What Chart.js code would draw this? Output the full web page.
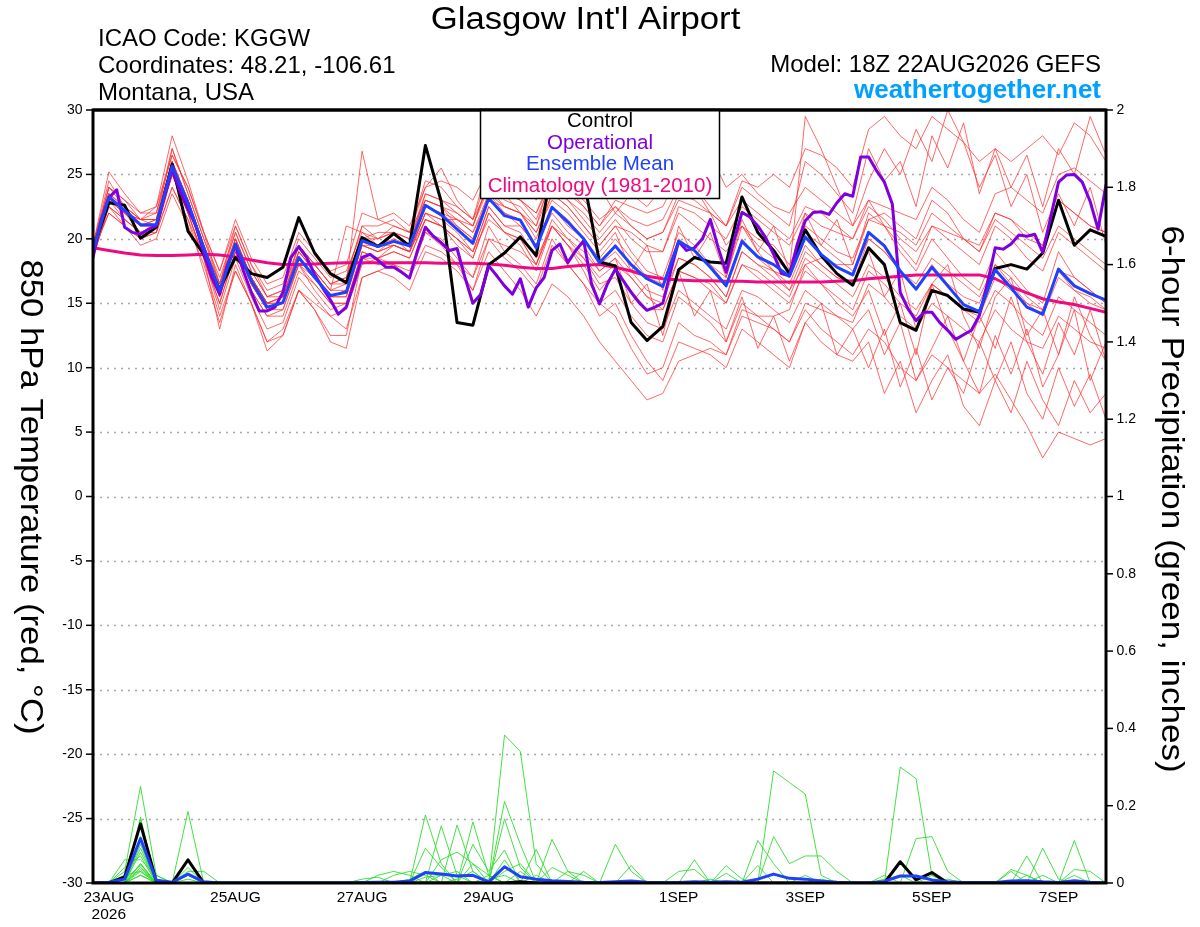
<!DOCTYPE html>
<html><head><meta charset="utf-8">
<script src="https://cdn.jsdelivr.net/npm/chart.js@4.4.1/dist/chart.umd.min.js"></script>
<style>html,body{margin:0;padding:0;background:#fff;}canvas{display:block;}</style>
</head><body>
<canvas id="c" width="1200" height="927"></canvas>
<script>
// ---- x axis: 6-hourly steps, index 0 = 18Z 22AUG2026 ----
const tickIndex = [1, 9, 17, 25, 37, 45, 53, 61];
const tickLabels = [['23AUG','2026'], '25AUG', '27AUG', '29AUG', '1SEP', '3SEP', '5SEP', '7SEP'];

// ---- 850 hPa temperature (°C) ----
const controlTemp = [19.2,22.8,22.6,20.05,20.9,25.8,20.6,18.8,16.1,18.55,17.3,17.0,17.8,21.65,18.9,17.3,16.6,
 20.1,19.4,20.4,19.45,27.25,22.9,13.5,13.3,18.0,18.9,20.15,18.7,25.5,26.0,24.6,18.2,
 17.9,13.5,12.1,13.2,17.6,18.55,18.2,18.1,23.25,20.5,19.1,17.3,20.7,18.7,17.3,16.4,
 19.3,18.0,13.5,12.9,16.0,15.6,14.55,14.3,17.7,18.0,17.65,18.9,23.0,19.5,20.7,20.2];
const meanTemp = [19.1,23.25,22.2,21.1,21.1,25.65,22.8,19.3,15.95,19.6,16.75,14.7,15.05,18.55,17.0,15.6,15.85,
 19.85,19.4,19.8,19.45,22.6,21.85,20.75,19.65,23.15,21.8,21.45,19.3,22.45,21.3,20.0,18.15,
 19.45,18.0,16.9,16.3,19.8,19.1,17.8,16.35,19.8,18.6,18.0,17.1,20.15,18.8,17.8,17.2,
 20.5,19.45,17.5,16.1,17.8,16.35,14.9,14.35,17.6,16.2,14.7,14.15,17.65,16.35,15.75,15.25];
const climoTemp = [19.3,19.1,18.9,18.75,18.7,18.7,18.75,18.8,18.75,18.6,18.35,18.15,18.0,18.0,18.05,18.1,18.15,
 18.15,18.15,18.15,18.15,18.15,18.1,18.1,18.1,18.05,17.95,17.8,17.7,17.7,17.85,17.95,18.0,
 17.8,17.5,17.1,16.9,16.8,16.75,16.75,16.7,16.7,16.65,16.65,16.65,16.65,16.65,16.7,16.75,
 16.9,17.0,17.1,17.2,17.2,17.2,17.2,17.2,16.9,16.3,15.8,15.35,15.1,14.9,14.6,14.3];
// operational run is 3-hourly (index step 0.5)
const operTemp = [18.55,21.4,23.2,23.8,20.9,20.5,20.35,20.75,21.0,23.2,25.4,23.7,22.3,21.0,18.9,17.0,15.7,18.0,19.45,17.5,15.85,14.4,14.4,14.7,15.85,18.55,19.4,18.55,17.25,16.2,15.25,14.15,14.7,
 16.6,18.55,18.8,18.35,17.8,17.8,17.4,16.95,19.1,20.9,20.2,19.7,19.1,19.25,17.0,15.0,15.7,17.9,17.15,16.35,15.7,16.9,14.7,16.2,17.0,19.1,19.6,18.15,19.1,19.85,16.5,14.95,
 16.5,17.65,16.75,15.85,15.05,14.45,14.7,15.0,17.5,19.8,19.1,19.3,20.0,21.5,19.3,17.4,19.85,22.05,21.7,21.0,20.1,18.8,17.3,17.15,19.6,21.4,22.05,22.1,21.9,22.8,23.5,23.3,
 26.35,26.35,25.3,24.4,22.7,15.85,14.55,13.65,14.3,14.3,13.5,12.9,12.2,12.55,12.9,14.05,16.5,19.3,19.2,19.6,20.3,20.2,20.35,18.95,21.65,24.4,24.95,25.0,24.4,22.9,20.75,24.2];

// ensemble members (temperature)
const mem01 = [19.5,24.5,22.5,21.5,22,27,23.5,20,17,20.5,17.5,15.5,16,19.5,18,16.5,17, 21,20,20.5,19.5,23.5,23,22,21,24.5,23,22.5,21,24,23,22,20.5, 22,21,20,20.5,23.5,23,22,21,24,23,22,21,26,25,23.5,22, 27,24.5,26,22.5,28,25.5,29,23.5,27,24,26.5,22.5,27,25,29.5,26.5];
const mem02 = [18.5,22.5,21.5,20.5,20.5,25,22,18.5,14.5,18.5,15.5,13,13.5,17,15.5,14,14.5, 18,18.5,18,17.5,20.5,20,18.5,17,21,19,18,16.5,20,18,16.5,14, 15,12.5,10.5,9,12,11.5,11,10,13,12,11,10,13.5,12,11,10.5, 12,8,10.5,6.5,9,11,7,5.5,9,12,8,6,10,7,9.5,6];
const mem03 = [19,23,22.5,21.5,21.5,26,23,19,16,20,17,15,15.5,19,17.5,16,16.5, 26.8,21.5,21,20.5,24,25.5,23,21.5,25,23.5,22,20,23.5,22.5,21,19.5, 21,19,17.5,17,20.5,19.5,18,17,21,19.5,18.5,17.5,29.5,27,24,21, 23,21,19,17.5,20,18.5,17,16,19,17.5,16,15,19,17,16,15];
const mem04 = [19,22,21,20,20.5,24,21.5,18.5,13,18,15,12,13,16,15,14,13, 17,17.5,18,17,19.5,19,18,17,20,19.5,19,18,21,20,19,17.5, 18.5,17,15.5,15,18.5,18,17,15.5,19,18,17.5,17,21,20,19,18.5, 21.5,22,21,20,23,22,20,19.5,22,21.5,20,19.5,23,22,21,20.5];
const mem05 = [19.5,25.2,23.5,22,22,26.5,24,20.5,17.5,21,18,16,16.5,20,18.5,17,17.5, 20.5,19.5,20,19,22,21,20,19,22.5,21,21,19.5,22.5,21.5,20,18.5, 20,18.5,17,16.5,20,19,18,16.5,20,18.5,17.5,16.5,19.5,18,17,16.5, 19,15.5,17.5,13,16.5,18,14,11.5,15.5,17,12.5,14.5,11,15.5,12.5,10.5];
const mem06 = [19,23.5,22,21,21,25.5,22.5,19,15.5,19.5,16.5,14.5,15,18.5,17,15.5,16, 19.5,19,20,19.5,22.5,22,21,20,23,22,21.5,19.5,22.5,21,20,18, 19,17.5,16,15.5,18.5,18,17,15.5,19,18,17,16,19,18,17,16.5, 20,19,17.5,16,18,16.5,15.5,15,18,16.5,15,14,17,16,15,14.5];
const mem07 = [19,23,22,21.5,21,25,22.5,19.5,16,19.5,17,15,15,18,17,15.5,16, 20,20,21,20.5,23,22.5,22,21,24,22.5,22,21,25,24,23,21.5, 22.5,21.5,21,21.5,24,25.5,26.5,24,25,23.5,22.5,22,24,23,22,21, 24.5,27,25,28.5,26,30,27.5,24,26.5,22.5,25,20.5,23.5,21,24,19.5];
const mem08 = [18.5,22.5,21.5,20.5,21,25,22,18.5,15,19,16,14,14.5,18,16.5,15,15, 19,18.5,19,18.5,21.5,21,19.5,18.5,22,20.5,20,18,21.5,20,18.5,16.5, 17,15,13.5,13,16,15,14,13,16,15.5,14.5,13.5,16,15,14,13, 14.5,11,13.5,9,11.5,14,10.5,8,12.5,9.5,13,8.5,11,14.5,9,12];
const mem09 = [19.5,24,23,21.5,22.5,28,24.5,20.5,16.5,21,18,15.5,16,19.5,18,16.5,17, 21,21,21.5,20.5,24.5,24,22.5,21.5,26,24,23,22,24.5,23,21.5,20, 21.5,20,19,19,22.5,22,21,20,22.5,21.5,20.5,19.5,22,21,20.5,20, 23,22.5,22,21.5,24,23,21.5,20.5,23.5,24,23,22,25,25.5,24.5,23.5];
const mem10 = [19,22,21,19.5,20,23.5,21,18,14,17.5,15,11.3,12.5,16,14.5,12,11.5, 17,17.5,17,16,19,18.5,17.5,16,20,18.5,17.5,16,19.5,18,16.5,15, 16,14,12.5,12,15.5,14.5,13.5,12,15,14,13,12,14.5,13,12,11, 13,12,10,9,11,10,9,8,9.5,7.5,5.5,3,5,4.5,4,4.5];
const mem11 = [19,23.5,22.5,21,21.5,26,23,19.5,16.5,20,17,15,15.5,19,17.5,16,16, 20,19.5,20.5,20,23,22.5,21,20,23.5,22.5,22,20.5,23,22,20.5,19, 20.5,17.5,19.5,16,21,18.5,20.5,17,21.5,19,21,17.5,22,19.5,21.5,18, 22,21,19.5,18,21,20,19,18,21,20,18.5,17.5,20.5,19.5,18.5,17.5];
const mem12 = [18.5,23,22,21,21,25.5,22.5,19,15.5,19,16.5,14.5,15,18.5,17,15.5,15.5, 19.5,19,19.5,19,22,21.5,20.5,19,22.5,21,20.5,18.5,21,19.5,17.5,15, 14,11.5,9.5,10,13.5,12.5,12,11,14.5,14,14,14.5,18,18.5,18,18, 21.5,21,20.5,19.5,22,21,20,19,21.5,20.5,19.5,18.5,21,20,19,18];
const mem13 = [19,24,22.5,21.5,21.5,27,23.5,20,16.5,20.5,17.5,15.5,15.5,19.5,18,16.5,16.5, 20,20.5,20.5,19.5,23,22.5,21.5,20.5,23.5,22,21,19.5,22,20.5,19.5,17.5, 18.5,15,16.5,12.5,17.5,14,16,12,15.5,11.5,14,10.5,13.5,15,11,13, 10,13,8.5,11.5,7.5,10,8,12,9,6.5,10.5,7.5,5.5,9,6.5,8];
const mem14 = [19,23,22,21,21,25.5,23,19.5,16.5,20,17,15,15,18.5,17,15.5,16, 19.5,19.5,19.5,19,22.5,22,21.5,20.5,23,22.5,22,20.5,23.5,22.5,21,19.5, 21,20.5,19.5,19,22,21,20,19,21,20,19.5,18,20.5,19.5,18.5,17.5, 20,19,17.5,16.5,18.5,17.5,16.5,15.5,18,17,15.5,14.5,17.5,16,15.5,14.5];
const mem15 = [19,22.5,21,20,20.5,24,21.5,17.5,13.5,17.5,15,12,12.5,16,14.5,12.5,12.5, 18.5,18,18,17,20.5,19.5,18,16,19,17.5,16,14,16.5,15.5,14,12, 10.5,9,7.5,8,10.5,11,11.5,11,14,13.5,13,12,15,14.5,14,13.5, 16.5,15.5,14,13,15,14,13,12,14.5,13,12,11.5,14,13,12,11.5];
const mem16 = [19.5,24,23,22,22.5,26.5,24,20.5,17.5,21.5,18.5,16.5,17,20.5,19,17.5,18, 22,21.5,22,21,24,24.5,24,23,25.5,25,24.5,23,25,25.5,26,24, 22,23.5,22.5,24,25,24,22,19.5,21,19,17.5,16,18,16.5,15,14, 16,12.5,15,11,16.5,13,10.5,14,11.5,15.5,12,9.5,13.5,11,14.5,10.5];
const mem17 = [19,23.5,22,21.5,21.5,26,23,19.5,16,20,17,15,15.5,19,17.5,16,21, 20.5,20,20.5,20,23.5,23,22.5,21.5,24,23.5,23,21.5,24.5,23.5,22.5,21, 22.5,21,20,20.5,23,22.5,22,21,24.5,24,25,24,27,26.5,25.5,24, 28.5,29.5,28,27,29.5,28.5,27.5,26,27,26,27,28,26.5,29,28,26];
const mem18 = [19,23,22,20.5,21,25,22,18.5,15,19,16,14,14,17.5,16.5,15,15, 18.5,18.5,19,18.5,21.5,21,20,18.5,22,20.5,19.5,17.5,21,19.5,18,16, 17.5,16,14.5,14.5,17.5,17,16,15,18,17.5,16.5,15.5,18.5,17.5,16.5,15.5, 18,17,15.5,14.5,16.5,15.5,14.5,13.5,16,15,13.5,12.5,15.5,14.5,13.5,12.5];
const mem19 = [19.5,23.5,22.5,21,21.5,26,23,19.5,16,19.5,16.5,14.5,15,18.5,17,15.5,15.5, 19.5,19,19.5,19,22,21.5,21.5,21,24.5,23.5,23,22,25,24,22.5,21, 23,22.5,22,22.5,25,24,22.5,21,23,22,21,20,22.5,22,21,20, 22.5,21.5,20,19,21,20.5,20,19,22,21.5,20.5,19.5,23,22,21,20.5];
const mem20 = [19,23,21.5,20.5,21,25,22.5,19,15.5,19.5,16.5,14.5,14.5,18,16,14.5,15, 19,18.5,19.5,19,21.5,21,20,19,21.5,20.5,20,18,21,19.5,18.5,17, 18,17,15.5,14.5,17.5,17,16.5,15,18,17,16,15,17.5,16.5,15.5,14.5, 17.5,16.5,15,14,16.5,15.5,14.5,14,17,16,15,14.5,17.5,17,16,15];

// ---- 6-hour precipitation (inches) ----
const controlPrecip = [0,0,0.016,0.153,0.005,0,0.06,0,0,0,0,0,0,0,0,0,0, 0,0,0,0,0,0,0,0,0,0,0.003,0,0,0,0,0, 0,0,0,0,0,0,0,0,0,0,0,0,0,0,0,0, 0,0,0.055,0.008,0.027,0,0,0,0,0,0,0,0,0,0,0];
const meanPrecip = [0,0.002,0.01,0.115,0.007,0.002,0.023,0.003,0,0,0,0,0,0,0,0,0, 0.001,0.002,0.002,0.005,0.027,0.023,0.018,0.02,0.003,0.042,0.016,0.01,0.006,0.004,0.002,0.001, 0.003,0.005,0.002,0.001,0.001,0.003,0.002,0.003,0.002,0.01,0.023,0.012,0.01,0.005,0.002,0, 0,0.004,0.018,0.018,0.008,0.003,0.001,0.001,0.001,0.005,0.006,0.003,0.001,0.006,0.002,0];
const pcp01 = [0,0,0.03,0.25,0.02,0,0,0,0,0,0,0,0,0,0,0,0, 0,0,0,0,0,0,0,0,0,0.383,0.34,0.05,0,0,0,0, 0,0,0,0,0,0,0,0,0,0,0,0,0,0,0,0, 0,0,0,0,0,0,0,0,0,0,0,0,0,0.11,0,0];
const pcp02 = [0,0,0,0.17,0,0,0.185,0,0,0,0,0,0,0,0,0,0, 0,0,0,0,0,0,0,0.158,0.02,0,0,0,0,0,0,0, 0,0,0,0,0,0,0,0,0,0,0.29,0.26,0.23,0.02,0,0, 0,0,0,0,0,0,0,0,0,0,0.07,0,0,0,0,0];
const pcp03 = [0,0,0,0.165,0,0,0,0,0,0,0,0,0,0,0,0,0, 0,0,0,0,0.176,0.05,0,0,0,0.211,0.1,0,0,0,0,0, 0,0,0,0,0,0,0,0,0,0,0,0,0,0,0,0, 0,0,0.3,0.27,0.02,0,0,0,0,0,0,0,0,0,0,0];
const pcp04 = [0,0,0,0.1,0,0,0,0,0,0,0,0,0,0,0,0,0, 0,0,0,0,0,0.148,0.02,0,0,0.166,0.04,0,0,0,0,0, 0,0,0,0,0,0,0,0,0,0.11,0.05,0,0,0,0,0, 0,0,0,0.115,0.12,0.03,0,0,0,0,0,0,0,0,0,0];
const pcp05 = [0,0,0,0.09,0,0,0.04,0,0,0,0,0,0,0,0,0,0, 0,0,0,0,0,0,0.15,0.03,0,0,0,0,0.113,0.03,0,0, 0.1,0.03,0,0,0,0,0,0,0,0,0,0,0,0,0,0, 0,0,0,0,0,0,0,0,0,0,0,0,0,0,0,0];
const pcp06 = [0,0,0,0.08,0,0,0,0,0,0,0,0,0,0,0,0,0, 0,0,0,0,0,0,0,0.1,0.03,0.085,0,0,0,0,0,0, 0,0,0,0,0,0,0,0,0,0,0.12,0.05,0.07,0.07,0.03,0, 0,0,0,0,0,0,0,0,0,0,0,0.09,0.01,0,0,0];
const pcp07 = [0,0,0.04,0.07,0,0,0,0,0,0,0,0,0,0,0,0,0, 0,0,0,0,0.09,0.04,0,0,0,0,0,0.087,0,0,0,0, 0,0,0,0,0,0.06,0,0,0,0,0,0,0,0,0,0, 0,0,0,0,0,0,0,0,0,0.035,0.02,0,0,0,0,0];
const pcp08 = [0,0,0.06,0.06,0.02,0,0,0,0,0,0,0,0,0,0,0,0, 0,0.02,0.03,0.02,0,0,0,0,0,0.06,0,0,0,0,0,0, 0,0.045,0,0,0,0,0,0,0,0,0,0,0,0,0,0, 0,0,0,0,0,0,0,0,0,0,0,0,0,0.035,0.03,0];
const pcp09 = [0,0,0,0.05,0,0,0.03,0.03,0,0,0,0,0,0,0,0,0, 0,0,0,0,0,0.06,0.08,0.05,0,0,0,0,0,0,0,0, 0,0,0,0,0,0,0,0.045,0.01,0,0,0,0,0,0,0, 0,0.02,0,0,0,0,0,0,0,0,0,0,0,0,0,0];
const pcp10 = [0,0,0,0.05,0,0,0,0,0,0,0,0,0,0,0,0,0, 0,0,0.02,0.03,0.02,0,0,0,0,0,0,0,0,0,0.03,0, 0,0,0,0,0.03,0.035,0,0,0,0,0,0,0,0,0,0, 0,0,0,0,0,0,0,0,0,0.03,0,0,0,0,0,0];
const pcp11 = [0,0,0,0.04,0,0,0.02,0,0,0,0,0,0,0,0,0,0, 0,0,0,0,0,0,0,0.05,0.02,0,0,0,0,0,0,0, 0,0,0,0,0,0,0,0.025,0,0,0,0,0,0,0,0, 0,0.01,0.02,0,0,0,0,0,0,0,0,0,0,0,0,0];
const pcp12 = [0,0,0.02,0.03,0,0,0,0,0,0,0,0,0,0,0,0,0, 0,0,0,0,0,0,0,0,0,0.03,0.05,0,0,0,0,0, 0,0,0,0,0,0,0,0,0,0,0,0,0,0,0,0, 0,0,0,0,0,0,0,0,0,0,0,0,0,0.02,0,0];
const pcp13 = [0,0,0,0.02,0,0,0,0,0,0,0,0,0,0,0,0,0, 0,0,0,0.01,0.03,0,0,0,0,0,0,0,0,0.03,0.02,0, 0,0,0,0,0,0,0,0,0,0.045,0,0,0,0,0,0, 0,0,0,0,0,0,0,0,0,0,0,0,0,0,0,0];
const pcp14 = [0,0,0,0,0,0,0.01,0,0,0,0,0,0,0,0,0,0, 0,0,0,0,0,0.02,0.03,0,0,0,0,0.02,0,0,0,0, 0,0,0,0,0,0,0,0,0,0,0,0,0.02,0,0,0, 0,0,0,0,0,0,0,0,0,0,0,0,0,0,0,0];
const pcp15 = [0,0,0,0.12,0.01,0,0,0,0,0,0,0,0,0,0,0,0, 0,0,0,0,0,0,0,0,0.02,0,0,0,0,0,0,0, 0,0,0,0,0,0,0,0,0,0,0,0,0,0,0,0, 0,0,0,0,0.02,0,0,0,0,0,0.02,0,0,0,0,0];
const pcp16 = [0,0,0,0.03,0,0,0,0,0,0,0,0,0,0,0,0,0, 0.01,0.015,0,0,0,0,0,0,0,0,0.03,0,0,0,0,0, 0,0,0,0,0,0,0.01,0,0,0,0,0,0,0,0,0, 0,0,0,0,0,0,0,0,0,0,0,0,0,0,0,0];
const pcp17 = [0,0,0.01,0.045,0,0,0,0,0,0,0,0,0,0,0,0,0, 0,0,0,0,0,0,0.01,0.03,0,0,0,0,0,0,0,0, 0,0,0,0,0,0,0,0,0,0,0,0,0,0,0,0, 0,0,0,0,0,0,0,0,0,0,0,0.02,0,0,0,0];
const pcp18 = [0,0,0,0.035,0,0,0,0,0,0,0,0,0,0,0,0,0, 0,0,0,0,0,0,0,0,0,0,0,0,0.04,0.02,0,0, 0,0,0,0,0,0,0,0,0,0,0,0,0,0,0,0, 0,0,0,0,0,0,0,0,0,0,0,0,0,0,0,0];
const pcp19 = [0,0,0,0,0,0,0.02,0,0,0,0,0,0,0,0,0,0, 0,0,0,0,0.015,0.02,0,0,0,0,0,0,0,0,0,0, 0,0,0,0,0,0,0,0,0,0,0,0,0,0.01,0,0, 0,0,0,0,0,0,0,0,0,0,0,0,0,0,0,0];
const pcp20 = [0,0,0,0.02,0,0,0,0,0,0,0,0,0,0,0,0,0, 0,0,0,0,0,0,0,0,0.01,0.02,0,0,0,0,0,0, 0,0,0,0,0,0,0,0,0,0,0,0,0,0,0,0, 0,0,0,0,0,0.01,0,0,0,0,0,0,0,0,0,0];

// ---- styling ----
const FONT = '"Liberation Sans", Arial, Helvetica, sans-serif';
const C_CONTROL = '#000000', C_OPER = '#8000dd', C_MEAN = '#2040ff', C_CLIMO = '#ee0a80';
const C_MEMBER = 'rgba(255,45,45,0.8)', C_PCP = '#30dc30';

const tempMembers = [mem01,mem02,mem03,mem04,mem05,mem06,mem07,mem08,mem09,mem10,mem11,mem12,mem13,mem14,mem15,mem16,mem17,mem18,mem19,mem20];
const pcpMembers = [pcp01,pcp02,pcp03,pcp04,pcp05,pcp06,pcp07,pcp08,pcp09,pcp10,pcp11,pcp12,pcp13,pcp14,pcp15,pcp16,pcp17,pcp18,pcp19,pcp20];
const pts = (arr, step=1) => arr.map((v,i)=>({x:i*step, y:v}));

const datasets = [];
tempMembers.forEach((m,k)=>datasets.push({label:'m'+k, data:pts(m), yAxisID:'y', borderColor:C_MEMBER, borderWidth:0.9, order:100}));
pcpMembers.forEach((m,k)=>datasets.push({label:'p'+k, data:pts(m), yAxisID:'y2', borderColor:C_PCP, borderWidth:0.9, order:90}));
datasets.push({label:'Climatology', data:pts(climoTemp), yAxisID:'y', borderColor:C_CLIMO, borderWidth:3, order:50});
datasets.push({label:'Control', data:pts(controlTemp), yAxisID:'y', borderColor:C_CONTROL, borderWidth:3, order:40});
datasets.push({label:'Operational', data:pts(operTemp, 0.5), yAxisID:'y', borderColor:C_OPER, borderWidth:3, order:30});
datasets.push({label:'Mean', data:pts(meanTemp), yAxisID:'y', borderColor:C_MEAN, borderWidth:3, order:20});
datasets.push({label:'ControlP', data:pts(controlPrecip), yAxisID:'y2', borderColor:C_CONTROL, borderWidth:3, order:15});
datasets.push({label:'MeanP', data:pts(meanPrecip), yAxisID:'y2', borderColor:C_MEAN, borderWidth:3, order:10});

// text drawn with a slight horizontal stretch (the original font is wider than Arial)
function wideText(ctx, text, x, y, size, sx, align, rot){
  ctx.save();
  ctx.translate(x, y);
  if (rot) ctx.rotate(rot);
  ctx.scale(sx, 1);
  ctx.font = size+'px '+FONT;
  ctx.textAlign = align;
  ctx.textBaseline = 'alphabetic';
  ctx.fillText(text, 0, 0);
  ctx.restore();
}

const decor = {
  id:'decor',
  beforeDatasetsDraw(chart){
    const {ctx, chartArea:a, scales} = chart;
    ctx.save();
    ctx.strokeStyle = '#a8a8a8'; ctx.lineWidth = 1.3; ctx.setLineDash([2,5]);
    for (let v=-25; v<30; v+=5){
      const py = Math.round(scales.y.getPixelForValue(v))+0.5;
      ctx.beginPath(); ctx.moveTo(a.left, py); ctx.lineTo(a.right, py); ctx.stroke();
    }
    ctx.restore();
  },
  afterDatasetsDraw(chart){
    const {ctx, chartArea:a, scales} = chart;
    ctx.save();
    ctx.strokeStyle = '#000'; ctx.lineWidth = 3; ctx.setLineDash([]);
    ctx.strokeRect(a.left, a.top, a.right-a.left, a.bottom-a.top);
    ctx.lineWidth = 1.5;
    for (let v=-30; v<=30; v+=5){
      const py = scales.y.getPixelForValue(v);
      ctx.beginPath(); ctx.moveTo(a.left-7, py); ctx.lineTo(a.left, py); ctx.stroke();
    }
    for (let k=0; k<=10; k++){
      const py = scales.y2.getPixelForValue(k*0.2);
      ctx.beginPath(); ctx.moveTo(a.right, py); ctx.lineTo(a.right+7, py); ctx.stroke();
    }
    // legend box
    ctx.fillStyle = '#fff'; ctx.lineWidth = 1.5;
    ctx.fillRect(480.5, 109.5, 239, 89); ctx.strokeRect(480.5, 109.5, 239, 89);
    ctx.font = '20.5px '+FONT; ctx.textAlign = 'center'; ctx.textBaseline = 'alphabetic';
    [['Control',C_CONTROL,127],['Operational',C_OPER,148.5],['Ensemble Mean',C_MEAN,170],['Climatology (1981-2010)',C_CLIMO,192]].forEach(([t,c,y])=>{
      ctx.fillStyle = c; ctx.fillText(t, 600, y);
    });
    ctx.strokeStyle = '#000'; ctx.lineWidth = 3;
    ctx.beginPath(); ctx.moveTo(a.left, a.top); ctx.lineTo(a.right, a.top); ctx.stroke();
    // header texts
    ctx.fillStyle = '#000';
    wideText(ctx, "Glasgow Int'l Airport", 585.5, 29, 31, 1.12, 'center', 0);
    ctx.font = '24px '+FONT; ctx.textAlign = 'left'; ctx.textBaseline = 'alphabetic';
    ctx.fillText('ICAO Code: KGGW', 98, 46);
    ctx.fillText('Coordinates: 48.21, -106.61', 98, 73);
    ctx.fillText('Montana, USA', 98, 100);
    ctx.textAlign = 'right';
    ctx.fillText('Model: 18Z 22AUG2026 GEFS', 1101, 72);
    ctx.font = 'bold 26px '+FONT; ctx.fillStyle = '#00a0ff';
    ctx.fillText('weathertogether.net', 1101, 98);
    // axis titles (rotated, reading top to bottom)
    ctx.fillStyle = '#000';
    wideText(ctx, '850 hPa Temperature (red, \u00B0C)', 21, 497, 31, 1.12, 'center', Math.PI/2);
    wideText(ctx, '6-hour Precipitation (green, inches)', 1162, 499, 31, 1.13, 'center', Math.PI/2);
    ctx.restore();
  }
};

new Chart(document.getElementById('c'), {
  type:'line',
  data:{datasets},
  options:{
    responsive:false, animation:false, devicePixelRatio:1,
    layout:{padding:{top:110, left:0, right:0, bottom:0}},
    plugins:{legend:{display:false}, tooltip:{enabled:false}, title:{display:false}},
    elements:{point:{radius:0, hoverRadius:0}, line:{tension:0, borderCapStyle:'round', borderJoinStyle:'round'}},
    scales:{
      x:{type:'linear', min:0, max:64,
         afterBuildTicks: ax => { ax.ticks = tickIndex.map(v=>({value:v})); },
         afterFit: s => { s.height = 44; },
         grid:{display:false, drawTicks:false}, border:{display:false},
         ticks:{autoSkip:false, maxRotation:0, minRotation:0, padding:7, color:'#000', font:{family:FONT, size:15.5, lineHeight:1.05},
                callback:(v)=>{ const k = tickIndex.indexOf(v); return k>=0 ? tickLabels[k] : ''; }}},
      y:{position:'left', min:-30, max:30,
         afterFit: s => { s.width = 93; },
         grid:{display:false, drawTicks:false}, border:{display:false},
         ticks:{stepSize:5, padding:10.5, color:'#000', font:{family:FONT, size:14}}},
      y2:{position:'right', min:0, max:2,
         afterFit: s => { s.width = 94; },
         grid:{display:false, drawTicks:false}, border:{display:false},
         ticks:{stepSize:0.2, padding:10.5, color:'#000', font:{family:FONT, size:14},
                callback:(v)=>String(Math.round(v*10)/10)}}
    }
  },
  plugins:[decor]
});
</script>
</body></html>
